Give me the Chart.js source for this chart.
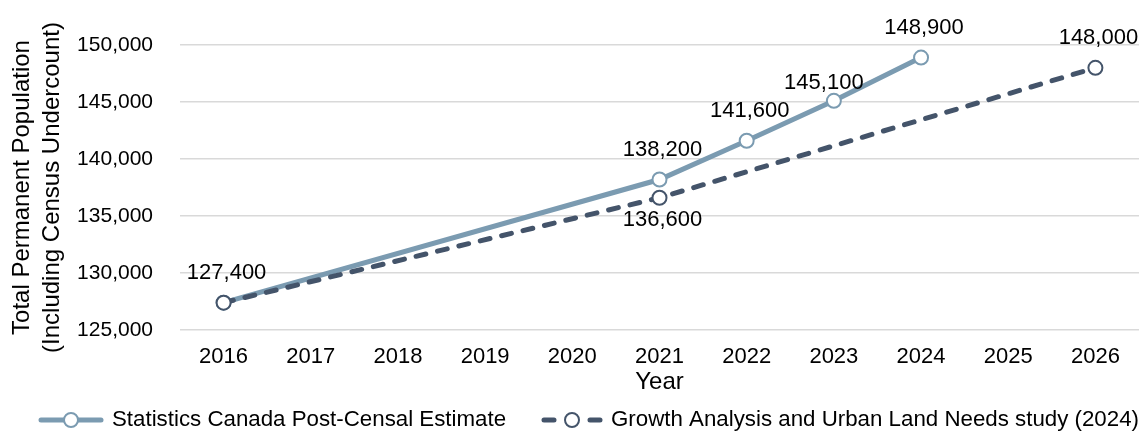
<!DOCTYPE html>
<html>
<head>
<meta charset="utf-8">
<script src="https://cdn.jsdelivr.net/npm/chart.js@4.4.1/dist/chart.umd.min.js"></script>
<style>
  html, body { margin: 0; padding: 0; background: #fff; }
  #wrap { width: 1148px; height: 436px; position: relative; }
</style>
</head>
<body>
<div id="wrap"><canvas id="popChart"></canvas></div>
<script>
// Chart data
const years = ['2016', '2017', '2018', '2019', '2020', '2021', '2022', '2023', '2024', '2025', '2026'];
const statsCanValues = [127400, null, null, null, null, 138200, 141600, 145100, 148900, null, null];
const growthStudyValues = [127400, null, null, null, null, 136600, null, null, null, null, 148000];
const yTickValues = [125000, 130000, 135000, 140000, 145000, 150000];
const seriesNames = ['Statistics Canada Post-Censal Estimate', 'Growth Analysis and Urban Land Needs study (2024)'];

const FONT = "'Liberation Sans', Arial, sans-serif";
const lightBlue = '#7b9bb1';
const darkSlate = '#44546a';

// value labels next to the points
const valueLabels = {
    id: 'valueLabels',
    afterDatasetsDraw(chart, args, opts) {
        const ctx = chart.ctx;
        ctx.save();
        ctx.font = '22px ' + FONT;
        ctx.fillStyle = '#000';
        ctx.textAlign = 'center';
        ctx.textBaseline = 'middle';
        chart.data.datasets.forEach(function(ds, di) {
            const meta = chart.getDatasetMeta(di);
            ds.data.forEach(function(v, i) {
                if (v === null) return;
                const key = di + ':' + i;
                if (opts.skip.indexOf(key) !== -1) return;
                const shift = opts.shift[key] || [0, -30];
                const pt = meta.data[i];
                ctx.fillText(v.toLocaleString('en-US'), pt.x + 3 + shift[0], pt.y + shift[1]);
            });
        });
        ctx.restore();
    }
};

// legend drawn as line + marker, like the office chart
const lineLegend = {
    id: 'lineLegend',
    afterDraw(chart) {
        const ctx = chart.ctx;
        const y = 420;
        const items = [
            { x: 38, w: 66, ds: chart.data.datasets[0] },
            { x: 541, w: 62, ds: chart.data.datasets[1] }
        ];
        ctx.save();
        items.forEach(function(it) {
            ctx.strokeStyle = it.ds.borderColor;
            ctx.lineWidth = 5;
            ctx.lineCap = 'round';
            ctx.beginPath();
            if (it.ds.borderDash) {
                // one dash each side of the marker
                ctx.moveTo(it.x + 3, y);
                ctx.lineTo(it.x + 13, y);
                ctx.moveTo(it.x + it.w - 13, y);
                ctx.lineTo(it.x + it.w - 3, y);
            } else {
                ctx.moveTo(it.x + 3, y);
                ctx.lineTo(it.x + it.w - 3, y);
            }
            ctx.stroke();
            ctx.beginPath();
            ctx.arc(it.x + it.w / 2, y, 7, 0, Math.PI * 2);
            ctx.fillStyle = '#fff';
            ctx.fill();
            ctx.lineWidth = 2;
            ctx.stroke();
            ctx.fillStyle = '#000';
            ctx.font = '22.3px ' + FONT;
            ctx.textAlign = 'left';
            ctx.textBaseline = 'middle';
            ctx.fillText(it.ds.label, it.x + it.w + 8, y);
        });
        ctx.restore();
    }
};

const ctx = document.getElementById('popChart').getContext('2d');
new Chart(ctx, {
    type: 'line',
    data: {
        labels: years,
        datasets: [{
            label: seriesNames[0],
            data: statsCanValues,
            borderColor: lightBlue,
            borderWidth: 5,
            pointRadius: 7,
            pointBorderWidth: 2,
            pointBackgroundColor: '#fff',
            pointBorderColor: lightBlue,
            spanGaps: true,
            tension: 0,
            order: 1
        }, {
            label: seriesNames[1],
            data: growthStudyValues,
            borderColor: darkSlate,
            borderWidth: 5,
            borderDash: [10, 12],
            borderCapStyle: 'round',
            pointRadius: 7,
            pointBorderWidth: 2,
            pointBackgroundColor: '#fff',
            pointBorderColor: darkSlate,
            spanGaps: true,
            tension: 0,
            order: 0
        }]
    },
    options: {
        responsive: true,
        maintainAspectRatio: false,
        animation: false,
        layout: { padding: { top: 45, right: 4, left: 0, bottom: 42 } },
        plugins: {
            legend: { display: false },
            tooltip: { enabled: false },
            valueLabels: {
                skip: ['1:0'],
                shift: { '1:5': [0, 22], '0:7': [-13, -18] }
            }
        },
        scales: {
            x: {
                offset: true,
                grid: { display: false, drawTicks: false },
                border: { display: false },
                ticks: { color: '#000', padding: 14, font: { family: FONT, size: 22 }, maxRotation: 0 },
                title: { display: true, text: 'Year', color: '#000', font: { family: FONT, size: 24, lineHeight: 1 }, padding: 0 },
                afterFit: function(scale) { scale.height = 64; }
            },
            y: {
                min: yTickValues[0],
                max: yTickValues[yTickValues.length - 1],
                grid: { color: '#d9d9d9', lineWidth: 1.5, drawTicks: false },
                border: { display: false },
                ticks: {
                    color: '#000',
                    padding: 27,
                    stepSize: yTickValues[1] - yTickValues[0],
                    font: { family: FONT, size: 21 },
                    callback: function(v) { return v.toLocaleString('en-US'); }
                },
                title: {
                    display: true,
                    text: ['Total Permanent Population', '(Including Census Undercount)'],
                    color: '#000',
                    font: { family: FONT, size: 24, lineHeight: 1.22 },
                    padding: { top: 8, bottom: 0 }
                },
                afterFit: function(scale) { scale.width = 180; }
            }
        }
    },
    plugins: [valueLabels, lineLegend]
});
</script>
</body>
</html>
